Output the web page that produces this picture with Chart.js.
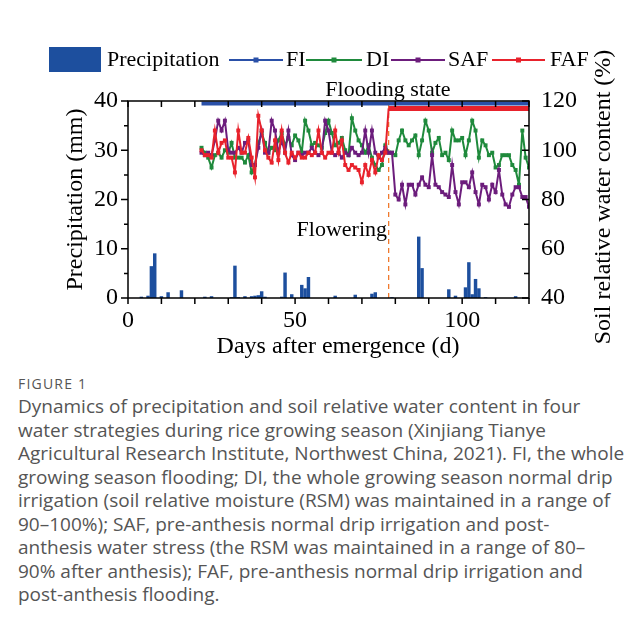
<!DOCTYPE html>
<html>
<head>
<meta charset="utf-8">
<script src="https://cdn.jsdelivr.net/npm/chart.js@4.4.0/dist/chart.umd.min.js"></script>
<style>
  body { margin:0; background:#fff; width:643px; height:633px; overflow:hidden; }
  #wrap { position:absolute; left:0; top:0; width:643px; height:365px; }
  .cap { position:absolute; left:18px; font-family:"Open Sans", "Noto Sans", sans-serif; color:#555; }
  #figlabel { top:374px; font-size:14px; letter-spacing:1.2px; }
  #captext { top:395px; font-size:19px; line-height:23.5px; white-space:nowrap; }
</style>
</head>
<body>
<div id="wrap"><canvas id="chart" width="643" height="365"></canvas></div>
<div class="cap" id="figlabel">FIGURE 1</div>
<div class="cap" id="captext">
Dynamics of precipitation and soil relative water content in four<br>
water strategies during rice growing season (Xinjiang Tianye<br>
Agricultural Research Institute, Northwest China, 2021). FI, the whole<br>
growing season flooding; DI, the whole growing season normal drip<br>
irrigation (soil relative moisture (RSM) was maintained in a range of<br>
90–100%); SAF, pre-anthesis normal drip irrigation and post-<br>
anthesis water stress (the RSM was maintained in a range of 80–<br>
90% after anthesis); FAF, pre-anthesis normal drip irrigation and<br>
post-anthesis flooding.
</div>
<script>
// precipitation (mm) by day after emergence
const precipDays = [4, 6, 7, 8, 10, 12, 16, 23, 25, 31, 32, 33, 35, 37, 38, 39, 40, 41, 46, 47, 49, 52, 53, 54, 62, 68, 73, 74, 79, 87, 88, 96, 98, 101, 102, 103, 104, 105, 107, 116];
const precipMm = [0.2, 0.4, 6.4, 9.0, 0.3, 1.1, 1.5, 0.2, 0.3, 0.1, 6.5, 0.1, 0.3, 0.3, 0.4, 0.5, 1.3, 0.2, 0.2, 5.1, 0.7, 2.6, 1.9, 4.2, 0.4, 0.6, 0.8, 1.1, 0.1, 12.4, 6.0, 1.7, 0.4, 2.1, 7.2, 0.7, 3.8, 1.9, 0.1, 0.3];

// soil relative water content (%), one value per day starting at day 22
const firstDay = 22;
const fiVals = [119, 119, 119, 119, 119, 119, 119, 119, 119, 119, 119, 119, 119, 119, 119, 119, 119, 119, 119, 119,
  119, 119, 119, 119, 119, 119, 119, 119, 119, 119, 119, 119, 119, 119, 119, 119, 119, 119, 119, 119,
  119, 119, 119, 119, 119, 119, 119, 119, 119, 119, 119, 119, 119, 119, 119, 119, 119, 119, 119, 119,
  119, 119, 119, 119, 119, 119, 119, 119, 119, 119, 119, 119, 119, 119, 119, 119, 119, 119, 119, 119,
  119, 119, 119, 119, 119, 119, 119, 119, 119, 119, 119, 119, 119, 119, 119, 119, 119, 119, 119];
const diVals = [101, 99, 97, 93, 98, 99, 97, 100, 99, 103, 97, 97, 97, 95, 98, 91, 94, 103, 107, 103,
  99, 101, 100, 104, 107, 102, 105, 102, 106, 104, 99, 112, 108, 102, 103, 102, 101, 107, 112, 107,
  102, 103, 105, 100, 98, 113, 108, 104, 102, 99, 102, 97, 94, 92, 94, 102, 99, 99, 98, 104,
  108, 104, 102, 104, 106, 98, 104, 112, 108, 99, 103, 105, 98, 99, 96, 108, 104, 104, 105, 98,
  104, 112, 108, 97, 104, 102, 98, 99, 93, 94, 98, 98, 98, 94, 92, 86, 108, 97, 93];
const safVals = [99, 98, 99, 98, 104, 112, 108, 112, 100, 99, 99, 101, 99, 103, 104, 94, 94, 101, 108, 99,
  99, 112, 108, 99, 104, 99, 108, 98, 96, 99, 98, 99, 99, 101, 99, 98, 99, 112, 108, 99,
  98, 99, 97, 99, 98, 101, 99, 98, 99, 108, 99, 108, 99, 97, 99, 101, 99, 99, 82, 80,
  86, 78, 86, 86, 82, 86, 89, 86, 85, 98, 86, 85, 83, 82, 81, 94, 83, 78, 87, 87,
  85, 91, 83, 78, 86, 85, 80, 86, 83, 92, 82, 78, 77, 82, 85, 85, 81, 81, 77];
const fafVals = [100, 98, 98, 97, 108, 99, 103, 104, 97, 97, 91, 108, 99, 99, 105, 97, 89, 114, 108, 100,
  97, 95, 104, 96, 108, 99, 95, 99, 97, 99, 97, 97, 99, 98, 99, 108, 99, 97, 99, 99,
  108, 99, 104, 94, 92, 94, 93, 92, 87, 94, 90, 96, 91, 98, 96, 99, 117, 117, 117, 117,
  117, 117, 117, 117, 117, 117, 117, 117, 117, 117, 117, 117, 117, 117, 117, 117, 117, 117, 117, 117,
  117, 117, 117, 117, 117, 117, 117, 117, 117, 117, 117, 117, 117, 117, 117, 117, 117, 117, 117];
const floweringDay = 78;

const serif = "'Liberation Serif', 'Times New Roman', serif";
const colors = { precip: '#1d4f9e', fi: '#2a50a8', di: '#1f8a3c', saf: '#6c1d7c', faf: '#e8222c', flower: '#f07a2e' };

const toPoints = vals => vals.map((v, i) => ({ x: firstDay + i, y: v }));

function lineSet(label, vals, color, order) {
    return {
        type: 'line', label, data: toPoints(vals), yAxisID: 'y1', order,
        borderColor: color, backgroundColor: color, borderWidth: 2,
        pointStyle: 'rect', pointRadius: 2.8, pointBorderWidth: 0, tension: 0
    };
}

const fafSet = lineSet('FAF', fafVals, colors.faf, 2);
fafSet.segment = { borderWidth: c => c.p0.parsed.x >= floweringDay ? 5 : 2 };
fafSet.pointRadius = c => (c.raw && c.raw.x >= floweringDay) ? 0 : 2.8;

const fiSet = lineSet('FI', fiVals, colors.fi, 1);
fiSet.borderWidth = 4;
fiSet.pointRadius = 0;

// draws frame, ticks, titles, text notes and the legend
const decorations = {
    id: 'decorations',
    afterDatasetsDraw(chart) {
        const { ctx, chartArea: a, scales: { x, y, y1 } } = chart;
        ctx.save();
        ctx.strokeStyle = '#000';
        ctx.lineWidth = 1.5;
        ctx.strokeRect(a.left, a.top, a.right - a.left, a.bottom - a.top);
        ctx.beginPath();
        for (let d = 0; d <= 120; d += 10) {
            const px = x.getPixelForValue(d);
            ctx.moveTo(px, a.bottom); ctx.lineTo(px, a.bottom + 6);
            ctx.moveTo(px, a.top); ctx.lineTo(px, a.top + 6);
        }
        for (let v = 0; v <= 40; v += 5) {
            const py = y.getPixelForValue(v);
            const len = v % 10 === 0 ? 7 : 4;
            ctx.moveTo(a.left - len, py); ctx.lineTo(a.left, py);
        }
        for (let v = 40; v <= 120; v += 10) {
            const py = y1.getPixelForValue(v);
            const len = v % 20 === 0 ? 7 : 5;
            ctx.moveTo(a.right, py); ctx.lineTo(a.right - len, py);
        }
        ctx.stroke();

        ctx.fillStyle = '#000';
        ctx.font = '22px ' + serif;
        ctx.textAlign = 'center';
        ctx.textBaseline = 'alphabetic';
        ctx.fillText('Flooding state', 388, 96);
        ctx.textAlign = 'right';
        ctx.fillText('Flowering', 387, 236);

        ctx.font = '24px ' + serif;
        ctx.textAlign = 'center';
        ctx.textBaseline = 'middle';
        ctx.fillText('Days after emergence (d)', 338, 347);
        ctx.save();
        ctx.translate(76, (a.top + a.bottom) / 2);
        ctx.rotate(-Math.PI / 2);
        ctx.fillText('Precipitation (mm)', 0, 0);
        ctx.restore();
        ctx.save();
        ctx.translate(604, 197);
        ctx.rotate(-Math.PI / 2);
        ctx.fillText('Soil relative water content (%)', 0, 0);
        ctx.restore();

        // legend
        const ly = 60;
        ctx.fillStyle = colors.precip;
        ctx.fillRect(49, 47, 52, 25);
        ctx.font = '22px ' + serif;
        ctx.textAlign = 'left';
        ctx.fillStyle = '#000';
        ctx.fillText('Precipitation', 107, ly);
        const items = [
            [colors.fi, 229, 283, 'FI', 286],
            [colors.di, 306, 362, 'DI', 366],
            [colors.saf, 391, 445, 'SAF', 448],
            [colors.faf, 492, 545, 'FAF', 550]
        ];
        items.forEach(([c, x0, x1, label, tx]) => {
            ctx.strokeStyle = c;
            ctx.lineWidth = 2;
            ctx.beginPath();
            ctx.moveTo(x0, ly); ctx.lineTo(x1, ly);
            ctx.stroke();
            ctx.fillStyle = c;
            ctx.fillRect((x0 + x1) / 2 - 2.5, ly - 2.5, 5, 5);
            ctx.fillStyle = '#000';
            ctx.fillText(label, tx, ly);
        });
        ctx.restore();
    }
};

const tickFont = { family: serif, size: 24 };

new Chart(document.getElementById('chart'), {
    type: 'bar',
    data: {
        datasets: [
            {
                type: 'bar', label: 'Precipitation', yAxisID: 'y', order: 10,
                data: precipDays.map((d, i) => ({ x: d, y: precipMm[i] })),
                backgroundColor: colors.precip, barThickness: 2.8
            },
            {
                type: 'line', label: 'Flowering', yAxisID: 'y', order: 6,
                data: [{ x: floweringDay, y: 0 }, { x: floweringDay, y: 40 }],
                borderColor: colors.flower, borderWidth: 1.3, borderDash: [5, 4], pointRadius: 0
            },
            lineSet('DI', diVals, colors.di, 4),
            lineSet('SAF', safVals, colors.saf, 3),
            fafSet,
            fiSet
        ]
    },
    options: {
        responsive: false,
        animation: false,
        devicePixelRatio: 1,
        layout: { padding: { top: 101, left: 0, right: 0, bottom: 0 } },
        plugins: { legend: { display: false }, tooltip: { enabled: false } },
        scales: {
            x: {
                type: 'linear', min: 0, max: 120, offset: false,
                grid: { display: false, drawTicks: true, tickLength: 6, offset: false },
                border: { display: false },
                ticks: { stepSize: 10, autoSkip: false, maxRotation: 0, padding: 2, color: '#000', font: tickFont,
                    callback: v => v % 50 === 0 ? v : '' },
                afterFit: s => { s.height = 67; }
            },
            y: {
                position: 'left', min: 0, max: 40,
                grid: { display: false, drawTicks: true, tickLength: 7 },
                border: { display: false },
                ticks: { stepSize: 10, padding: 3, color: '#000', font: tickFont },
                afterFit: s => { s.width = 128; }
            },
            y1: {
                position: 'right', min: 40, max: 120,
                grid: { display: false, drawTicks: true, tickLength: 7 },
                border: { display: false },
                ticks: { stepSize: 20, padding: 5, color: '#000', font: tickFont },
                afterFit: s => { s.width = 114; }
            }
        }
    },
    plugins: [decorations]
});
</script>
</body>
</html>
